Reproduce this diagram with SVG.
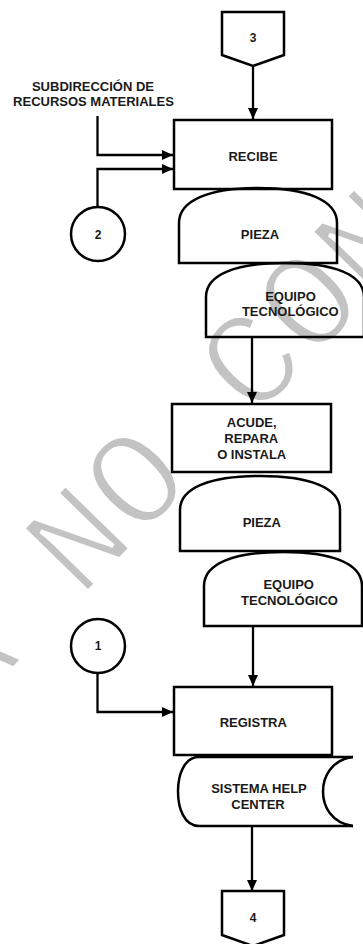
<svg xmlns="http://www.w3.org/2000/svg" width="363" height="944" viewBox="0 0 363 944">
<style>
.s{fill:none;stroke:#000;stroke-width:2.5;stroke-linejoin:miter}
.c{fill:none;stroke:#000;stroke-width:2.3}
.t{font-family:"Liberation Sans",Arial,sans-serif;font-weight:bold;font-size:13px;fill:#1a1a1a;text-anchor:middle}
.n{font-family:"Liberation Sans",Arial,sans-serif;font-weight:bold;font-size:12px;fill:#1a1a1a;text-anchor:middle}
.w{font-family:"Liberation Mono","Courier New",monospace;font-size:138px;fill:#c3c3c3;stroke:#fff;stroke-width:4}
</style>
<defs>
<marker id="ah" markerUnits="userSpaceOnUse" markerWidth="11" markerHeight="10" refX="11" refY="5" orient="auto">
<path d="M0,0 L11,5 L0,10 Z" fill="#000"/>
</marker>
</defs>
<rect width="363" height="944" fill="#fff"/>
<g id="watermark">
<text class="w" x="-266" y="956" transform="rotate(-45.8 -266 956)">COPIA NO CONTROLADA</text>
</g>
<g id="connectors">
<path class="c" d="M253,66 V119" marker-end="url(#ah)"/>
<path class="c" d="M97.5,116 V155 H173" marker-end="url(#ah)"/>
<path class="c" d="M97.5,207 V169 H173" marker-end="url(#ah)"/>
<path class="c" d="M252,337 V403" marker-end="url(#ah)"/>
<path class="c" d="M253,626 V686" marker-end="url(#ah)"/>
<path class="c" d="M97.5,673 V712 H173" marker-end="url(#ah)"/>
<path class="c" d="M252,826 V891" marker-end="url(#ah)"/>
</g>
<g id="off3">
<polygon class="s" points="222,12 284,12 284,55 253,66 222,55"/>
<text class="n" x="253" y="42">3</text>
</g>
<g id="label-subdireccion">
<text class="t" x="93" y="90.7">SUBDIRECCIÓN DE</text>
<text class="t" x="93.5" y="106">RECURSOS MATERIALES</text>
</g>
<g id="recibe">
<rect class="s" x="174" y="120" width="158" height="69"/>
<text class="t" x="253" y="160.7">RECIBE</text>
</g>
<g id="conn2">
<circle class="s" cx="98" cy="234" r="27"/>
<text class="n" x="98" y="238.5">2</text>
</g>
<g id="pieza1">
<path class="s" d="M179,263 V223 C179,200 210,188 258,188 C306,188 337,200 337,223 V263 Z"/>
<text class="t" x="260" y="239">PIEZA</text>
</g>
<g id="equipo1">
<path class="s" d="M206,337 V297 C206,274 237,263 285,263 C333,263 364,274 364,297 V337 Z"/>
<text class="t" x="290.5" y="300.5">EQUIPO</text>
<text class="t" x="290.3" y="316">TECNOLÓGICO</text>
</g>
<g id="acude">
<rect class="s" x="172" y="404" width="159" height="68"/>
<text class="t" x="251.7" y="427.3">ACUDE,</text>
<text class="t" x="251.3" y="443.3">REPARA</text>
<text class="t" x="251.7" y="459">O INSTALA</text>
</g>
<g id="pieza2">
<path class="s" d="M180,551 V510 C180,487 212,476 260,476 C308,476 340,487 340,510 V551 Z"/>
<text class="t" x="261.8" y="526.7">PIEZA</text>
</g>
<g id="equipo2">
<path class="s" d="M204,626 V586 C204,563 235,552 283,552 C331,552 362,563 362,586 V626 Z"/>
<text class="t" x="288.7" y="589.3">EQUIPO</text>
<text class="t" x="289.5" y="605">TECNOLÓGICO</text>
</g>
<g id="conn1">
<circle class="s" cx="98" cy="646" r="27"/>
<text class="n" x="98" y="650">1</text>
</g>
<g id="registra">
<rect class="s" x="174" y="687" width="158" height="68"/>
<text class="t" x="253.3" y="727.3">REGISTRA</text>
</g>
<g id="sistema">
<path class="s" d="M353,757 H199 C184,757 178,775 178,791.5 C178,808 184,826 199,826 H353"/>
<path class="s" d="M353,757 C331,760 323,777 323,791.5 C323,806 331,823 353,826"/>
<text class="t" x="259" y="793.3">SISTEMA HELP</text>
<text class="t" x="258" y="809">CENTER</text>
</g>
<g id="off4">
<polygon class="s" points="222,891 284,891 284,935 253,946 222,935"/>
<text class="n" x="253" y="921.7">4</text>
</g>
</svg>
